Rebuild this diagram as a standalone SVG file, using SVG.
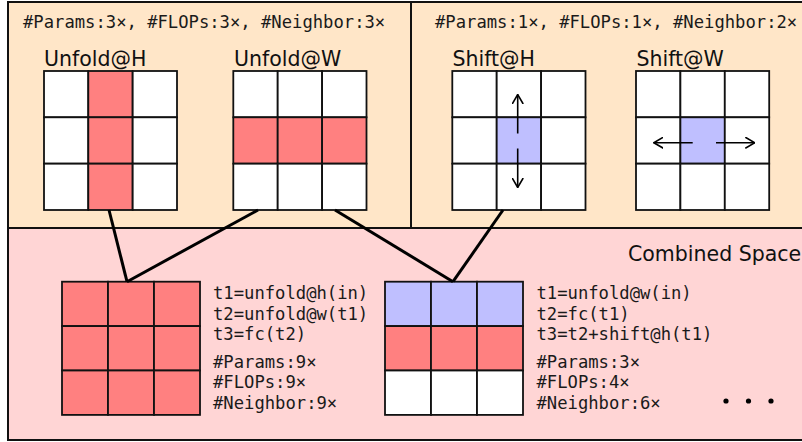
<svg xmlns="http://www.w3.org/2000/svg" width="802" height="442" viewBox="0 0 802 442">
<style>
.panelT{fill:#FFE6C8;stroke:#111;stroke-width:2}
.panelB{fill:#FFD5D5;stroke:#111;stroke-width:2}
.w{fill:#fff;stroke:#111;stroke-width:1.8}
.r{fill:#FF8080;stroke:#111;stroke-width:1.8}
.b{fill:#BFBFFF;stroke:#111;stroke-width:1.8}
.mono{font-family:"DejaVu Sans Mono","Liberation Mono",monospace;font-size:17.2px;fill:#1a1a1a}
.ttl{font-family:"DejaVu Sans","Liberation Sans",sans-serif;font-size:20.5px;fill:#111}
.conn{stroke:#000;stroke-width:3;fill:none}
.arr{stroke:#000;stroke-width:1.6;fill:none}
</style>
<defs>
<marker id="ah" viewBox="0 0 10 12" refX="9.5" refY="6" markerWidth="10" markerHeight="12" markerUnits="userSpaceOnUse" orient="auto">
<path d="M0,0.5 L9.5,6 L0,11.5" fill="none" stroke="#000" stroke-width="1.6"/>
</marker>
</defs>
<g id="panel-unfold">
<rect class="panelT" x="8" y="2" width="403" height="226"/>
<text class="mono" x="23" y="28">#Params:3×, #FLOPs:3×, #Neighbor:3×</text>
</g>
<g id="panel-shift">
<rect class="panelT" x="411" y="2" width="400" height="226"/>
<text class="mono" x="435" y="28">#Params:1×, #FLOPs:1×, #Neighbor:2×</text>
</g>
<g id="panel-combined">
<rect class="panelB" x="8" y="228" width="800" height="212"/>
<text class="ttl" x="628" y="261">Combined Space</text>
</g>
<g id="unfold-h">
<text class="ttl" x="44" y="66">Unfold@H</text>
<rect class="w" x="44" y="71" width="44.3" height="46.3"/><rect class="r" x="88.3" y="71" width="44.3" height="46.3"/><rect class="w" x="132.7" y="71" width="44.3" height="46.3"/>
<rect class="w" x="44" y="117.3" width="44.3" height="46.3"/><rect class="r" x="88.3" y="117.3" width="44.3" height="46.3"/><rect class="w" x="132.7" y="117.3" width="44.3" height="46.3"/>
<rect class="w" x="44" y="163.7" width="44.3" height="46.3"/><rect class="r" x="88.3" y="163.7" width="44.3" height="46.3"/><rect class="w" x="132.7" y="163.7" width="44.3" height="46.3"/>
</g>
<g id="unfold-w">
<text class="ttl" x="234" y="66">Unfold@W</text>
<rect class="w" x="233.3" y="71" width="44.4" height="46.3"/><rect class="w" x="277.7" y="71" width="44.4" height="46.3"/><rect class="w" x="322.1" y="71" width="44.4" height="46.3"/>
<rect class="r" x="233.3" y="117.3" width="44.4" height="46.3"/><rect class="r" x="277.7" y="117.3" width="44.4" height="46.3"/><rect class="r" x="322.1" y="117.3" width="44.4" height="46.3"/>
<rect class="w" x="233.3" y="163.7" width="44.4" height="46.3"/><rect class="w" x="277.7" y="163.7" width="44.4" height="46.3"/><rect class="w" x="322.1" y="163.7" width="44.4" height="46.3"/>
</g>
<g id="shift-h">
<text class="ttl" x="452.5" y="66">Shift@H</text>
<rect class="w" x="452.3" y="71" width="44.4" height="46.3"/><rect class="w" x="496.7" y="71" width="44.4" height="46.3"/><rect class="w" x="541.1" y="71" width="44.4" height="46.3"/>
<rect class="w" x="452.3" y="117.3" width="44.4" height="46.3"/><rect class="b" x="496.7" y="117.3" width="44.4" height="46.3"/><rect class="w" x="541.1" y="117.3" width="44.4" height="46.3"/>
<rect class="w" x="452.3" y="163.7" width="44.4" height="46.3"/><rect class="w" x="496.7" y="163.7" width="44.4" height="46.3"/><rect class="w" x="541.1" y="163.7" width="44.4" height="46.3"/>
<line class="arr" x1="517.7" y1="133.5" x2="517.7" y2="94.5" marker-end="url(#ah)"/>
<line class="arr" x1="517.7" y1="148.5" x2="517.7" y2="187.5" marker-end="url(#ah)"/>
</g>
<g id="shift-w">
<text class="ttl" x="636.5" y="66">Shift@W</text>
<rect class="w" x="636" y="71" width="44.4" height="46.3"/><rect class="w" x="680.4" y="71" width="44.4" height="46.3"/><rect class="w" x="724.8" y="71" width="44.4" height="46.3"/>
<rect class="w" x="636" y="117.3" width="44.4" height="46.3"/><rect class="b" x="680.4" y="117.3" width="44.4" height="46.3"/><rect class="w" x="724.8" y="117.3" width="44.4" height="46.3"/>
<rect class="w" x="636" y="163.7" width="44.4" height="46.3"/><rect class="w" x="680.4" y="163.7" width="44.4" height="46.3"/><rect class="w" x="724.8" y="163.7" width="44.4" height="46.3"/>
<line class="arr" x1="692.7" y1="142.7" x2="653.8" y2="142.7" marker-end="url(#ah)"/>
<line class="arr" x1="716" y1="142.7" x2="754.8" y2="142.7" marker-end="url(#ah)"/>
</g>
<g id="combo-1">
<rect class="r" x="62" y="281.7" width="46" height="44.4"/><rect class="r" x="108" y="281.7" width="46" height="44.4"/><rect class="r" x="154" y="281.7" width="46" height="44.4"/>
<rect class="r" x="62" y="326.1" width="46" height="44.4"/><rect class="r" x="108" y="326.1" width="46" height="44.4"/><rect class="r" x="154" y="326.1" width="46" height="44.4"/>
<rect class="r" x="62" y="370.5" width="46" height="44.4"/><rect class="r" x="108" y="370.5" width="46" height="44.4"/><rect class="r" x="154" y="370.5" width="46" height="44.4"/>
<text class="mono" x="213" y="299">t1=unfold@h(in)</text>
<text class="mono" x="213" y="319.5">t2=unfold@w(t1)</text>
<text class="mono" x="213" y="340">t3=fc(t2)</text>
<text class="mono" x="213" y="367.5">#Params:9×</text>
<text class="mono" x="213" y="388">#FLOPs:9×</text>
<text class="mono" x="213" y="408.5">#Neighbor:9×</text>
</g>
<g id="combo-2">
<rect class="b" x="385" y="281.7" width="46" height="44.4"/><rect class="b" x="431" y="281.7" width="46" height="44.4"/><rect class="b" x="477" y="281.7" width="46" height="44.4"/>
<rect class="r" x="385" y="326.1" width="46" height="44.4"/><rect class="r" x="431" y="326.1" width="46" height="44.4"/><rect class="r" x="477" y="326.1" width="46" height="44.4"/>
<rect class="w" x="385" y="370.5" width="46" height="44.4"/><rect class="w" x="431" y="370.5" width="46" height="44.4"/><rect class="w" x="477" y="370.5" width="46" height="44.4"/>
<text class="mono" x="536.5" y="299">t1=unfold@w(in)</text>
<text class="mono" x="536.5" y="319.5">t2=fc(t1)</text>
<text class="mono" x="536.5" y="340">t3=t2+shift@h(t1)</text>
<text class="mono" x="536.5" y="367.5">#Params:3×</text>
<text class="mono" x="536.5" y="388">#FLOPs:4×</text>
<text class="mono" x="536.5" y="408.5">#Neighbor:6×</text>
</g>
<g id="ellipsis">
<circle cx="726" cy="401" r="2.6" fill="#000"/>
<circle cx="748.5" cy="401" r="2.6" fill="#000"/>
<circle cx="771" cy="401" r="2.6" fill="#000"/>
</g>
<g id="connectors">
<line class="conn" x1="109" y1="210" x2="127" y2="281.7"/>
<line class="conn" x1="258" y1="210" x2="127" y2="281.7"/>
<line class="conn" x1="335" y1="210" x2="453" y2="281.7"/>
<line class="conn" x1="503" y1="210" x2="453" y2="281.7"/>
</g>
</svg>
